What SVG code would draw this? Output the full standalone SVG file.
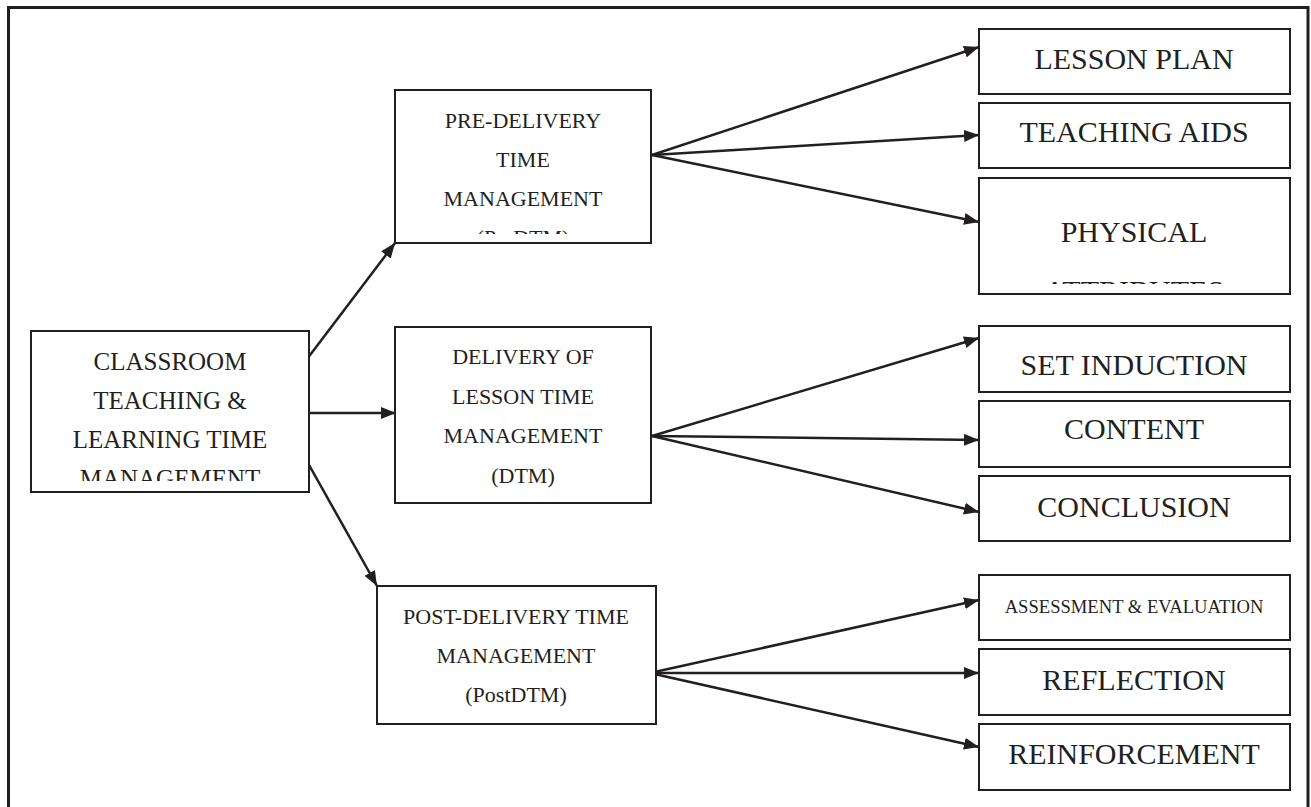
<svg xmlns="http://www.w3.org/2000/svg" width="1311" height="807" viewBox="0 0 1311 807">
<style>
.box{fill:#fff;stroke:#231f20;stroke-width:2}
.t{font-family:"Liberation Serif","Times New Roman",serif;fill:#231f20;text-anchor:middle}
.s22{font-size:22px}
.s25{font-size:25px}
.s30{font-size:30px}
.s18{font-size:18.6px}
.c{stroke:#231f20;stroke-width:2.5;fill:none;marker-end:url(#ah)}
</style>
<defs>
<marker id="ah" markerUnits="userSpaceOnUse" markerWidth="16" markerHeight="12" refX="15" refY="6" orient="auto">
<path d="M0,0 L15,6 L0,12 z" fill="#231f20"/>
</marker>
<clipPath id="clipMain"><rect x="31" y="331" width="278" height="150"/></clipPath>
<clipPath id="clipPre"><rect x="395" y="90" width="256" height="144"/></clipPath>
<clipPath id="clipPhys"><rect x="979" y="178" width="311" height="106"/></clipPath>
</defs>
<rect x="8.5" y="7.5" width="1299.5" height="812" fill="#fff" stroke="#231f20" stroke-width="3"/>

<g id="connectors">
<line class="c" x1="304" y1="363" x2="395" y2="243"/>
<line class="c" x1="304" y1="413" x2="396" y2="413"/>
<line class="c" x1="304" y1="456" x2="377" y2="586"/>
<line class="c" x1="652" y1="155" x2="979" y2="47"/>
<line class="c" x1="652" y1="155" x2="979" y2="135"/>
<line class="c" x1="652" y1="155" x2="979" y2="222"/>
<line class="c" x1="652" y1="436" x2="979" y2="338"/>
<line class="c" x1="652" y1="436" x2="979" y2="440"/>
<line class="c" x1="652" y1="436" x2="979" y2="512"/>
<line class="c" x1="650" y1="673" x2="979" y2="600"/>
<line class="c" x1="650" y1="673" x2="979" y2="673"/>
<line class="c" x1="650" y1="673" x2="979" y2="747"/>
</g>

<g id="classroom">
<rect class="box" x="31" y="331" width="278" height="161"/>
<g clip-path="url(#clipMain)" class="t s25">
<text x="170" y="370">CLASSROOM</text>
<text x="170" y="409">TEACHING &amp;</text>
<text x="170" y="448">LEARNING TIME</text>
<text x="170" y="487">MANAGEMENT</text>
</g>
</g>

<g id="predtm">
<rect class="box" x="395" y="90" width="256" height="153"/>
<g clip-path="url(#clipPre)" class="t s22">
<text x="523" y="128">PRE-DELIVERY</text>
<text x="523" y="167">TIME</text>
<text x="523" y="206">MANAGEMENT</text>
<text x="523" y="245">(PreDTM)</text>
</g>
</g>

<g id="dtm">
<rect class="box" x="395" y="327" width="256" height="176"/>
<g class="t s22">
<text x="523" y="364">DELIVERY OF</text>
<text x="523" y="404">LESSON TIME</text>
<text x="523" y="443">MANAGEMENT</text>
<text x="523" y="483">(DTM)</text>
</g>
</g>

<g id="postdtm">
<rect class="box" x="377" y="586" width="279" height="138"/>
<g class="t s22">
<text x="516" y="624">POST-DELIVERY TIME</text>
<text x="516" y="663">MANAGEMENT</text>
<text x="516" y="702">(PostDTM)</text>
</g>
</g>

<g id="lesson-plan">
<rect class="box" x="979" y="29" width="311" height="65"/>
<text class="t s30" x="1134" y="69">LESSON PLAN</text>
</g>
<g id="teaching-aids">
<rect class="box" x="979" y="103" width="311" height="65"/>
<text class="t s30" x="1134" y="142">TEACHING AIDS</text>
</g>
<g id="physical-attributes">
<rect class="box" x="979" y="178" width="311" height="116"/>
<g clip-path="url(#clipPhys)" class="t s30">
<text x="1134" y="242">PHYSICAL</text>
<text x="1134" y="301">ATTRIBUTES</text>
</g>
</g>

<g id="set-induction">
<rect class="box" x="979" y="326" width="311" height="66"/>
<text class="t s30" x="1134" y="375">SET INDUCTION</text>
</g>
<g id="content">
<rect class="box" x="979" y="401" width="311" height="66"/>
<text class="t s30" x="1134" y="439">CONTENT</text>
</g>
<g id="conclusion">
<rect class="box" x="979" y="476" width="311" height="65"/>
<text class="t s30" x="1134" y="517">CONCLUSION</text>
</g>

<g id="assessment">
<rect class="box" x="979" y="575" width="311" height="65"/>
<text class="t s18" x="1134" y="613">ASSESSMENT &amp; EVALUATION</text>
</g>
<g id="reflection">
<rect class="box" x="979" y="649" width="311" height="66"/>
<text class="t s30" x="1134" y="690">REFLECTION</text>
</g>
<g id="reinforcement">
<rect class="box" x="979" y="724" width="311" height="66"/>
<text class="t s30" x="1134" y="764">REINFORCEMENT</text>
</g>
</svg>
